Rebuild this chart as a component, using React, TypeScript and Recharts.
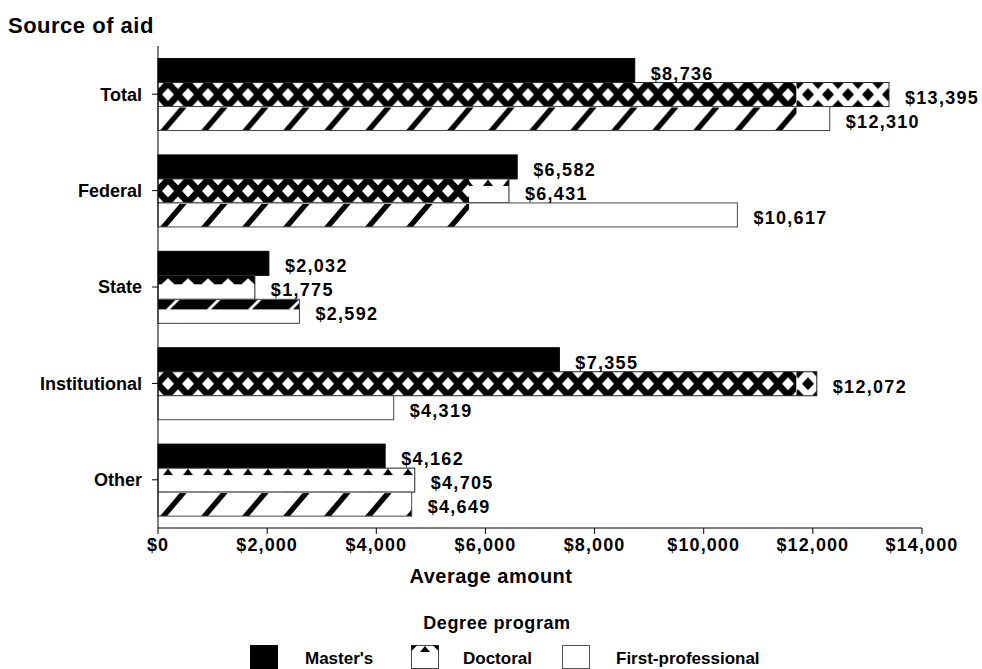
import { BarChart, Bar, XAxis, YAxis, LabelList } from "recharts";

const categories = ["Total", "Federal", "State", "Institutional", "Other"];
const masters = [8736, 6582, 2032, 7355, 4162];
const doctoral = [13395, 6431, 1775, 12072, 4705];
const firstProfessional = [12310, 10617, 2592, 4319, 4649];
const xTicks = [0, 2000, 4000, 6000, 8000, 10000, 12000, 14000];

const data = categories.map((category, i) => ({
  category,
  masters: masters[i],
  doctoral: doctoral[i],
  firstProfessional: firstProfessional[i],
}));

// the source chart's fill patterns only cover part of some bars (value where they stop)
const patternStop: Record<string, number> = { Total: 11700, Federal: 5700, Institutional: 11700 };
const doctoralLook: Record<string, string> = {
  Total: "lattice",
  Federal: "topLattice",
  State: "zigzag",
  Institutional: "lattice",
  Other: "top",
};
const firstProfLook: Record<string, string> = {
  Total: "slash",
  Federal: "slash",
  State: "slashTop",
  Institutional: "plain",
  Other: "slash",
};

const FONT = '"Liberation Sans", Arial, sans-serif';
const money = (v: any) => `$${Number(v).toLocaleString("en-US")}`;

const diamond = (cx: number, cy: number, hw: number, hh: number) =>
  `${cx - hw},${cy} ${cx},${cy - hh} ${cx + hw},${cy} ${cx},${cy + hh}`;

function latticePattern(id: string, x: number, y: number, h: number, inverse: boolean) {
  const bg = inverse ? "#fff" : "#000";
  const fg = inverse ? "#000" : "#fff";
  const pts = [
    [10, h / 2],
    [0, 0],
    [20, 0],
    [0, h],
    [20, h],
  ];
  return (
    <pattern id={id} patternUnits="userSpaceOnUse" x={x} y={y} width={20} height={h}>
      <rect width={20} height={h} fill={bg} />
      {pts.map(([cx, cy], k) => (
        <polygon key={k} points={diamond(cx, cy, 6, 6.5)} fill={fg} />
      ))}
    </pattern>
  );
}

function topPattern(id: string, x: number, y: number, h: number) {
  return (
    <pattern id={id} patternUnits="userSpaceOnUse" x={x} y={y} width={20} height={h}>
      <rect width={20} height={h} fill="#fff" />
      <polygon points="5,7 10,0.5 15,7" fill="#000" />
    </pattern>
  );
}

function zigzagPattern(id: string, x: number, y: number, h: number) {
  return (
    <pattern id={id} patternUnits="userSpaceOnUse" x={x} y={y} width={20} height={h}>
      <rect width={20} height={h} fill="#fff" />
      <rect width={20} height={9} fill="#000" />
      <polygon points="3,9.5 10,3 17,9.5" fill="#fff" />
    </pattern>
  );
}

function slashPattern(id: string, x: number, y: number, h: number, topOnly: boolean) {
  if (topOnly) {
    const b = h * 0.42;
    return (
      <pattern id={id} patternUnits="userSpaceOnUse" x={x} y={y} width={41} height={h}>
        <rect width={41} height={h} fill="#fff" />
        <rect width={41} height={b} fill="#000" />
        <polygon points={`8,${b} 12,${b} ${12 + b},0 ${8 + b},0`} fill="#fff" />
      </pattern>
    );
  }
  const top = h * 0.04;
  const dx = (h - top) * 0.85;
  return (
    <pattern id={id} patternUnits="userSpaceOnUse" x={x} y={y} width={41} height={h}>
      <rect width={41} height={h} fill="#fff" />
      <polygon points={`2,${h} 9,${h} ${9 + dx},${top} ${2 + dx},${top}`} fill="#000" />
    </pattern>
  );
}

function MastersBar(props: any) {
  const { x, y, width, height } = props;
  if (!width || width <= 0) return null;
  return <rect x={x} y={y} width={width} height={height} fill="#000" stroke="#000" strokeWidth={1} />;
}

function DoctoralBar(props: any) {
  const { x, y, width, height, index, payload } = props;
  if (!width || width <= 0) return null;
  const cat = payload.category;
  const look = doctoralLook[cat];
  const stop = patternStop[cat];
  const stopW = stop ? Math.min(width, (stop * width) / payload.doctoral) : width;
  const a = `doc-a-${index}`;
  const b = `doc-b-${index}`;
  return (
    <g>
      <defs>
        {look === "lattice" && latticePattern(a, x, y, height, false)}
        {look === "lattice" && latticePattern(b, x, y, height, true)}
        {look === "topLattice" && topPattern(b, x, y, height)}
        {look === "topLattice" && latticePattern(a, x, y, height, false)}
        {look === "zigzag" && zigzagPattern(a, x, y, height)}
        {look === "top" && topPattern(a, x, y, height)}
      </defs>
      {look === "lattice" && (
        <>
          <rect x={x} y={y} width={stopW} height={height} fill={`url(#${a})`} />
          <rect x={x + stopW} y={y} width={width - stopW} height={height} fill={`url(#${b})`} />
        </>
      )}
      {look === "topLattice" && (
        <>
          <rect x={x} y={y} width={width} height={height} fill={`url(#${b})`} />
          <rect x={x} y={y} width={stopW} height={height} fill={`url(#${a})`} />
        </>
      )}
      {(look === "zigzag" || look === "top") && (
        <rect x={x} y={y} width={width} height={height} fill={`url(#${a})`} />
      )}
      <rect x={x} y={y} width={width} height={height} fill="none" stroke="#222" strokeWidth={1} />
    </g>
  );
}

function FirstProfBar(props: any) {
  const { x, y, width, height, index, payload } = props;
  if (!width || width <= 0) return null;
  const cat = payload.category;
  const look = firstProfLook[cat];
  const stop = patternStop[cat];
  const stopW = stop ? Math.min(width, (stop * width) / payload.firstProfessional) : width;
  const a = `fp-a-${index}`;
  return (
    <g>
      <defs>{look !== "plain" && slashPattern(a, x, y, height, look === "slashTop")}</defs>
      <rect x={x} y={y} width={width} height={height} fill="#fff" />
      {look !== "plain" && <rect x={x} y={y} width={stopW} height={height} fill={`url(#${a})`} />}
      <rect x={x} y={y} width={width} height={height} fill="none" stroke="#444" strokeWidth={1} />
    </g>
  );
}

// value label to the right of each bar
function ValueLabel(props: any) {
  const { x, y, width, height, value } = props;
  return (
    <text
      x={x + width + 16}
      y={y + height / 2 + 3}
      dominantBaseline="central"
      fill="#000"
      fontSize={18}
      fontWeight="bold"
      letterSpacing={1.3}
      fontFamily={FONT}
    >
      {money(value)}
    </text>
  );
}

function LegendItem({ left, textLeft, label, kind }: { left: number; textLeft: number; label: string; kind: string }) {
  return (
    <>
      <svg width={28} height={24} style={{ position: "absolute", left, top: 645, display: "block" }}>
        {kind === "masters" && <rect x={0} y={0} width={28} height={24} fill="#000" />}
        {kind === "doctoral" && (
          <>
            <rect x={0.5} y={0.5} width={27} height={23} fill="#fff" stroke="#444" />
            <polygon points="0.5,0.5 6,0.5 0.5,6" fill="#000" />
            <polygon points="22,0.5 27.5,0.5 27.5,6" fill="#000" />
            <polygon points="9,7 14,1 19,7" fill="#000" />
          </>
        )}
        {kind === "first" && <rect x={0.5} y={0.5} width={27} height={23} fill="#fff" stroke="#555" />}
      </svg>
      <div style={{ position: "absolute", left: textLeft, top: 649, fontSize: 17, fontWeight: "bold", whiteSpace: "nowrap" }}>
        {label}
      </div>
    </>
  );
}

export default function App() {
  return (
    <div
      style={{
        position: "fixed",
        left: 0,
        top: 0,
        width: 982,
        height: 669,
        background: "#fff",
        fontFamily: FONT,
        color: "#000",
        overflow: "hidden",
      }}
    >
      <div style={{ position: "absolute", left: 8, top: 13, fontSize: 22, fontWeight: "bold", letterSpacing: 0.5 }}>
        Source of aid
      </div>

      <BarChart
        width={982}
        height={669}
        data={data}
        layout="vertical"
        margin={{ top: 46, right: 60, bottom: 0, left: 0 }}
        barGap={0}
        barCategoryGap="13%"
        style={{ fontFamily: FONT }}
      >
        <XAxis
          type="number"
          domain={[0, 14000]}
          ticks={xTicks}
          interval={0}
          tickFormatter={money}
          height={141}
          tickSize={6}
          tickMargin={4}
          axisLine={{ stroke: "#000" }}
          tickLine={{ stroke: "#000" }}
          tick={{ fill: "#000", fontSize: 18, fontWeight: "bold", fontFamily: FONT, letterSpacing: 1.1 }}
        />
        <YAxis
          type="category"
          dataKey="category"
          width={158}
          interval={0}
          tickSize={6}
          tickMargin={10}
          axisLine={{ stroke: "#000" }}
          tickLine={{ stroke: "#000" }}
          tick={{ fill: "#000", fontSize: 18, fontWeight: "bold", fontFamily: FONT }}
        />
        <Bar dataKey="masters" name="Master's" shape={MastersBar} isAnimationActive={false}>
          <LabelList dataKey="masters" content={ValueLabel} />
        </Bar>
        <Bar dataKey="doctoral" name="Doctoral" shape={DoctoralBar} isAnimationActive={false}>
          <LabelList dataKey="doctoral" content={ValueLabel} />
        </Bar>
        <Bar dataKey="firstProfessional" name="First-professional" shape={FirstProfBar} isAnimationActive={false}>
          <LabelList dataKey="firstProfessional" content={ValueLabel} />
        </Bar>
      </BarChart>

      <div
        style={{
          position: "absolute",
          left: 291,
          width: 400,
          top: 565,
          textAlign: "center",
          fontSize: 20,
          fontWeight: "bold",
          letterSpacing: 0.5,
        }}
      >
        Average amount
      </div>
      <div
        style={{
          position: "absolute",
          left: 297,
          width: 400,
          top: 613,
          textAlign: "center",
          fontSize: 18,
          fontWeight: "bold",
          letterSpacing: 0.6,
        }}
      >
        Degree program
      </div>
      <LegendItem left={250} textLeft={305} label="Master's" kind="masters" />
      <LegendItem left={411} textLeft={463} label="Doctoral" kind="doctoral" />
      <LegendItem left={562} textLeft={616} label="First-professional" kind="first" />
    </div>
  );
}
